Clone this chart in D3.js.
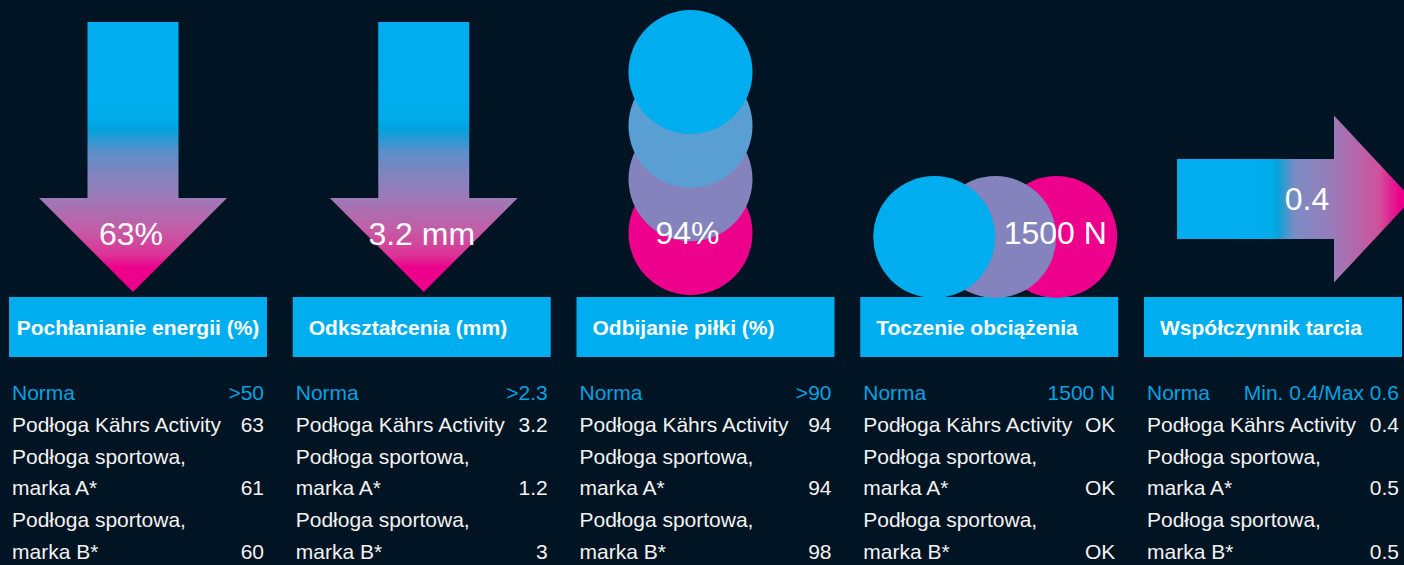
<!DOCTYPE html>
<html>
<head>
<meta charset="utf-8">
<script src="https://cdn.jsdelivr.net/npm/d3@7/dist/d3.min.js"></script>
<style>
  html, body { margin: 0; padding: 0; background: #011423; }
  svg { display: block; }
</style>
</head>
<body>
<svg id="chart" width="1404" height="565"></svg>
<script>
// ---- DATA ----
const categories = ["Pochłanianie energii (%)", "Odkształcenia (mm)", "Odbijanie piłki (%)", "Toczenie obciążenia", "Współczynnik tarcia"];
const iconLabels = ["63%", "3.2 mm", "94%", "1500 N", "0.4"];
const iconTypes = ["arrowDown", "arrowDown", "circlesStack", "circlesRow", "arrowRight"];
const normLabel = "Norma";
const normValues = [">50", ">2.3", ">90", "1500 N", "Min. 0.4/Max 0.6"];
const rowLabels = ["Podłoga Kährs Activity", "Podłoga sportowa,", "marka A*", "Podłoga sportowa,", "marka B*"];
const kahrsValues = ["63", "3.2", "94", "OK", "0.4"];
const brandAValues = ["61", "1.2", "94", "OK", "0.5"];
const brandBValues = ["60", "3", "98", "OK", "0.5"];

// ---- STYLE ----
const W = 1404, H = 565;
const cyan = "#00aeef", magenta = "#ec008c", purple = "#8583bd", midBlue = "#5a9fd4";
const normColor = "#00a3e0", textColor = "#f2f2f2";
const font = "'Liberation Sans', Arial, sans-serif";

const svg = d3.select("#chart");
svg.append("rect").attr("width", W).attr("height", H).attr("fill", "#011423");

const defs = svg.append("defs");
function grad(id, vertical) {
  const g = defs.append("linearGradient").attr("id", id).attr("gradientUnits", "objectBoundingBox")
    .attr("x1", 0).attr("y1", 0).attr("x2", vertical ? 0 : 1).attr("y2", vertical ? 1 : 0);
  const stops = vertical
    ? [[0, "#00aeef"], [0.36, "#00acec"], [0.40, "#04a2dc"], [0.48, "#5a8fca"], [0.56, "#8184c0"], [0.65, "#9c7bb8"], [0.77, "#c45ca6"], [0.86, "#dc3597"], [0.91, "#ec008c"], [1, "#ec008c"]]
    : [[0, "#00aeef"], [0.40, "#00acec"], [0.43, "#0aa2d6"], [0.50, "#7a8cc4"], [0.67, "#9c7bb8"], [0.86, "#d0509c"], [0.95, "#ec008c"], [1, "#ec008c"]];
  stops.forEach(([o, c]) => g.append("stop").attr("offset", o).attr("stop-color", c));
}
grad("gDown", true);
grad("gRight", false);

// panels via band scale
const x = d3.scaleBand().domain(d3.range(categories.length)).range([9, 1402]).paddingInner(0.0907).paddingOuter(0);
const bw = x.bandwidth();

// row positions
const rowY = d3.scaleLinear().domain([0, 5]).range([400, 559]);

const panels = svg.selectAll("g.panel").data(categories).join("g")
  .attr("class", "panel")
  .attr("transform", (d, i) => `translate(${x(i)},0)`);

// header boxes
panels.append("rect").attr("x", 0).attr("y", 297).attr("width", bw).attr("height", 60).attr("fill", cyan);
panels.append("text")
  .attr("y", 335)
  .attr("fill", "#ffffff")
  .attr("font-family", font).attr("font-weight", "bold").attr("font-size", 21)
  .text(d => d)
  .each(function () {
    const w = this.getComputedTextLength();
    this.setAttribute("x", Math.min(16, (bw - w) / 2));
  });

// table rows
panels.each(function (d, i) {
  const g = d3.select(this);
  const rows = [
    [normLabel, normValues[i], normColor],
    [rowLabels[0], kahrsValues[i], textColor],
    [rowLabels[1], "", textColor],
    [rowLabels[2], brandAValues[i], textColor],
    [rowLabels[3], "", textColor],
    [rowLabels[4], brandBValues[i], textColor]
  ];
  rows.forEach((r, k) => {
    g.append("text").attr("x", 3).attr("y", rowY(k)).attr("fill", r[2])
      .attr("font-family", font).attr("font-size", 21).text(r[0]);
    g.append("text").attr("x", bw - 3).attr("y", rowY(k)).attr("fill", r[2])
      .attr("text-anchor", "end").attr("font-family", font).attr("font-size", 21).text(r[1]);
  });
});

// icons
const iconCenters = [124, 131, 114, 0, 0]; // offsets in panel
panels.each(function (d, i) {
  const g = d3.select(this);
  const t = iconTypes[i];
  let labelX = 0, labelY = 245;
  if (t === "arrowDown") {
    const cx = iconCenters[i];
    const top = 22, headTop = 198, tip = 292, sw = 45.5, hw = 94;
    const pts = [[cx - sw, top], [cx + sw, top], [cx + sw, headTop], [cx + hw, headTop], [cx, tip], [cx - hw, headTop], [cx - sw, headTop]];
    g.append("path").attr("d", d3.line()(pts) + "Z").attr("fill", "url(#gDown)");
    labelX = cx - 2;
  } else if (t === "circlesStack") {
    const cx = iconCenters[i], r = 62;
    const ys = d3.scaleLinear().domain([0, 3]).range([233, 72]);
    const cols = [magenta, purple, midBlue, cyan];
    g.selectAll("circle.s").data(cols).join("circle").attr("class", "s")
      .attr("cx", cx).attr("cy", (c, k) => ys(k)).attr("r", r).attr("fill", c => c);
    labelX = cx - 3; labelY = 244;
  } else if (t === "circlesRow") {
    const r = 61;
    const xs = d3.scaleLinear().domain([0, 2]).range([196, 74]);
    const cols = [magenta, purple, cyan];
    g.selectAll("circle.r").data(cols).join("circle").attr("class", "r")
      .attr("cx", (c, k) => xs(k)).attr("cy", 237).attr("r", r).attr("fill", c => c);
    labelX = 195; labelY = 244;
  } else if (t === "arrowRight") {
    const left = 33, headL = 190, tipX = 268, cy = 199, sh = 40, hh = 83.5;
    const pts = [[left, cy - sh], [headL, cy - sh], [headL, cy - hh], [tipX, cy], [headL, cy + hh], [headL, cy + sh], [left, cy + sh]];
    g.append("path").attr("d", d3.line()(pts) + "Z").attr("fill", "url(#gRight)");
    labelX = 163; labelY = 210;
  }
  g.append("text").attr("x", labelX).attr("y", labelY).attr("text-anchor", "middle")
    .attr("fill", "#ffffff").attr("font-family", font).attr("font-size", 32).text(iconLabels[i]);
});
</script>
</body>
</html>
